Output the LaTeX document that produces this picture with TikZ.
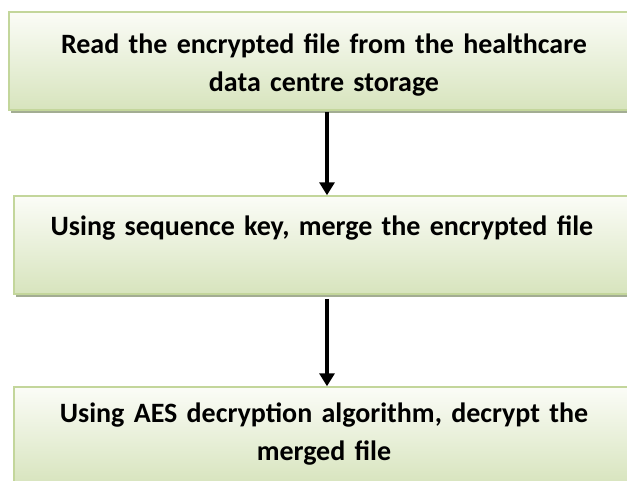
\documentclass[tikz,border=0pt]{standalone}
\usepackage{fontspec}
\setmainfont{Carlito}
\usetikzlibrary{arrows.meta, positioning, shadows}

\definecolor{boxgreen}{HTML}{D7E4BD}
\definecolor{boxtop}{HTML}{FBFCF7}
\definecolor{boxedge}{HTML}{C3D69B}
\definecolor{boxshadow}{HTML}{A3AD93}

\begin{document}
\begin{tikzpicture}[x=1pt, y=1pt,
    stepbox/.style={draw=boxedge, line width=1.5pt, top color=boxtop, bottom color=boxgreen,
        minimum width=630pt, minimum height=98pt, inner sep=0pt,
        drop shadow={shadow xshift=2pt, shadow yshift=-3pt, fill=boxshadow, opacity=1}},
    steptext/.style={font=\bfseries\fontsize{28}{38}\selectfont, align=center,
        text width=600pt, inner sep=0pt},
    flow/.style={-{Triangle[length=13pt, width=15pt]}, line width=4pt}]
    \useasboundingbox (0,0) rectangle (627,-480);

    % the three steps
    \node[stepbox] (read) at (324,-61) {};
    \node[steptext, below=22pt of read.north] (readtxt)
        {Read the encrypted file from the healthcare\\data centre storage};

    \node[stepbox] (merge) at (329,-245) {};
    \node[steptext, below=20pt of merge.north, xshift=-7pt] (mergetxt)
        {Using sequence key, merge the encrypted file};

    \node[stepbox] (decrypt) at (329,-436) {};
    \node[steptext, below=16pt of decrypt.north, xshift=-5pt] (decrypttxt)
        {Using AES decryption algorithm, decrypt the\\merged file};

    % arrows between steps
    \coordinate (arrowx) at (327,0);
    \draw[flow] ([yshift=-1pt]read.south -| arrowx) -- (merge.north -| arrowx);
    \draw[flow] ([yshift=-4pt]merge.south -| arrowx) -- (decrypt.north -| arrowx);
\end{tikzpicture}
\end{document}
